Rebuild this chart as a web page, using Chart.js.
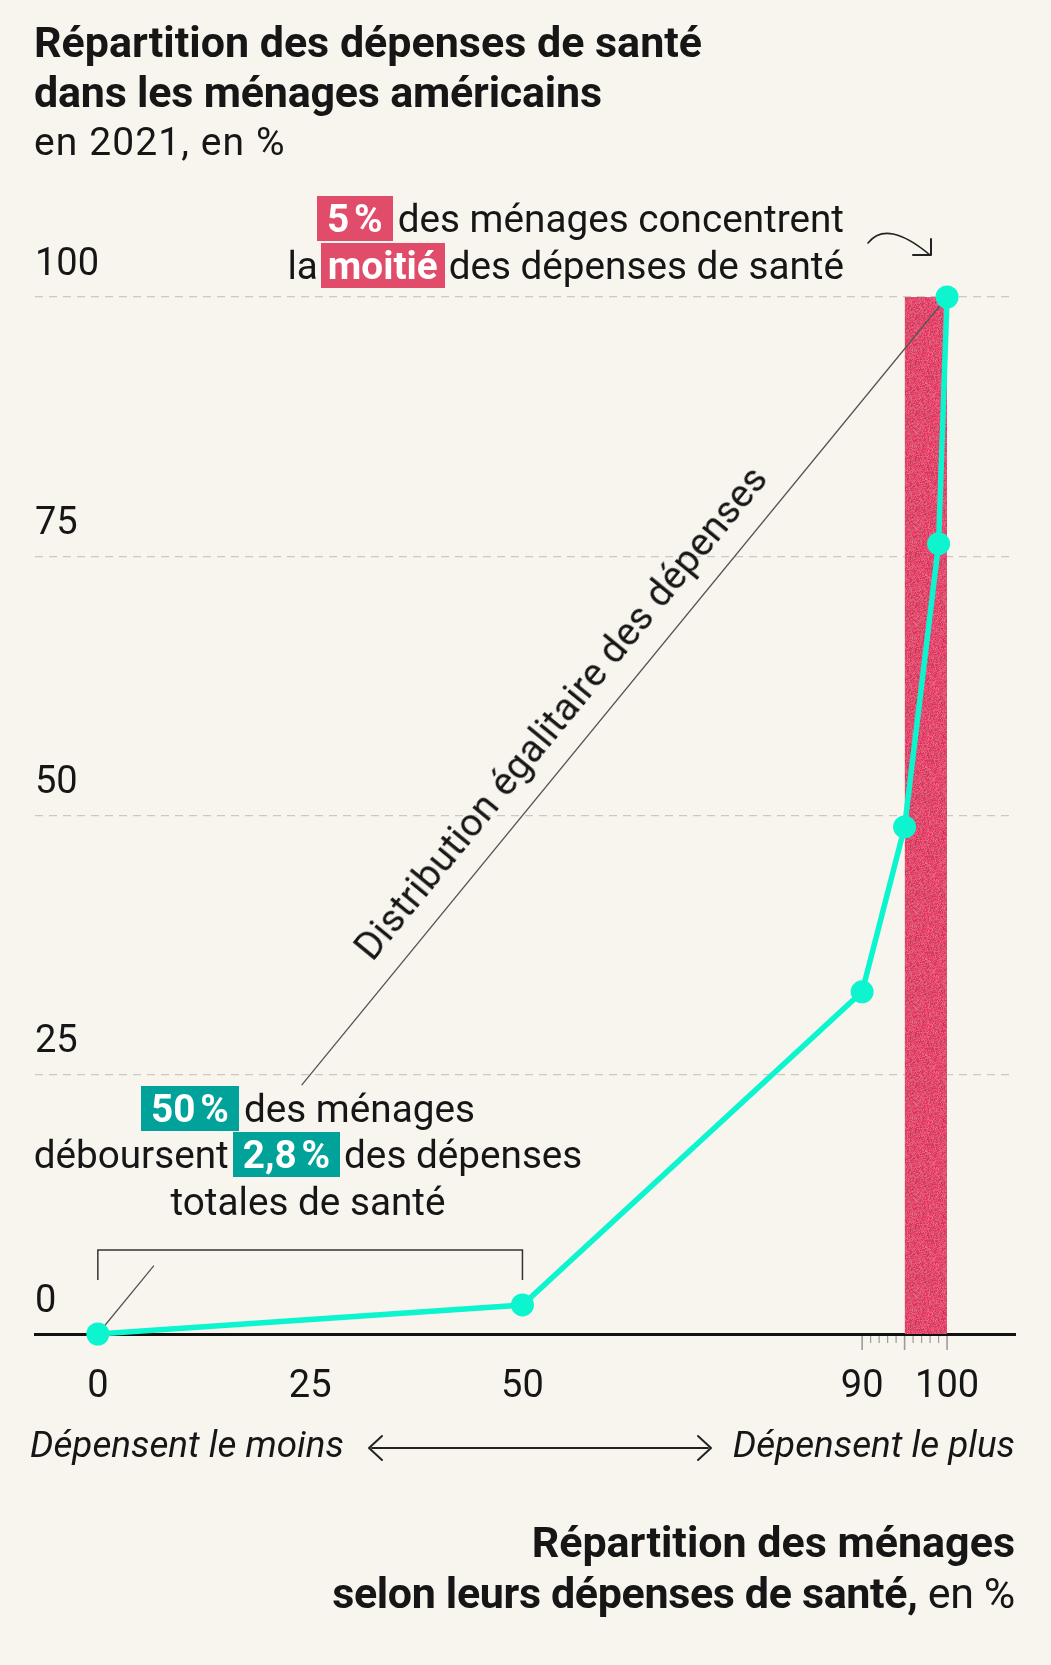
<!DOCTYPE html>
<html lang="fr">
<head>
<meta charset="utf-8">
<title>Répartition des dépenses de santé dans les ménages américains</title>
<script src="https://cdn.jsdelivr.net/npm/chart.js@4.4.1/dist/chart.umd.min.js"></script>
<style>
  html, body { margin: 0; padding: 0; background: #f8f5ef; }
  #page { position: relative; width: 1051px; height: 1665px; overflow: hidden;
          font-family: Roboto, 'Liberation Sans', sans-serif; color: #161616; }
  #graph { position: absolute; left: 0; top: 0; width: 1051px; height: 1665px; }
  .txt { position: absolute; white-space: nowrap; line-height: 1; }
  .titre { left: 34px; font-size: 43px; font-weight: 700; }
  .sous-titre { left: 34px; top: 123px; font-size: 39px; font-weight: 400; letter-spacing: 1.1px; }
  .note { font-size: 38.7px; font-weight: 400; }
  .hl { color: #fff; font-weight: 700; padding: 0 10px; }
  .rouge { background: #e14c6a; }
  .vert { background: #00a29a; }
  .sens { font-size: 36.8px; font-style: italic; top: 1427px; }
  .axe-titre { right: 36px; font-size: 43px; font-weight: 700; text-align: right; }
  #deco { position: absolute; left: 0; top: 0; pointer-events: none; }
</style>
</head>
<body>
<div id="page">
  <canvas id="graph" width="1051" height="1665"></canvas>

  <div class="txt titre" style="top:21px">Répartition des dépenses de santé</div>
  <div class="txt titre" style="top:71px; letter-spacing:-0.2px">dans les ménages américains</div>
  <div class="txt sous-titre">en 2021, en %</div>

  <div class="txt note" style="right:207px; top:200px; text-align:right"><span class="hl rouge" style="margin-right:5px">5&#8239;%</span>des ménages concentrent</div>
  <div class="txt note" style="right:207px; top:247px; text-align:right">la<span class="hl rouge" style="margin:0 4px 0 3px; padding:0 7px">moitié</span>des dépenses de santé</div>

  <div class="txt note" style="left:0; width:616px; top:1090px; text-align:center"><span class="hl vert" style="margin-right:5px">50&#8239;%</span>des ménages</div>
  <div class="txt note" style="left:0; width:616px; top:1136px; text-align:center">déboursent<span class="hl vert" style="margin:0 4px">2,8&#8239;%</span>des dépenses</div>
  <div class="txt note" style="left:0; width:616px; top:1183px; text-align:center">totales de santé</div>

  <div class="txt note" style="left:561px; top:713px; letter-spacing:0.3px; transform: translate(-50%, -50%) rotate(-50.6deg)">Distribution égalitaire des dépenses</div>

  <div class="txt sens" style="left:30px">Dépensent le moins</div>
  <div class="txt sens" style="right:36px">Dépensent le plus</div>

  <div class="txt axe-titre" style="top:1521px">Répartition des ménages</div>
  <div class="txt axe-titre" style="top:1572px; letter-spacing:-0.35px">selon leurs dépenses de santé,<span style="font-weight:400"> en %</span></div>

  <svg id="deco" width="1051" height="1665" fill="none" stroke="#222" stroke-linecap="round" stroke-linejoin="round">
    <path d="M868 243 Q887 219 930 255" stroke-width="1.6"/>
    <path d="M913 255 L931 255 L931 239" stroke-width="2"/>
    <path d="M372 1448 L708 1448" stroke-width="2"/>
    <path d="M382 1436 L369 1448 L382 1460" stroke-width="2"/>
    <path d="M698 1436 L711 1448 L698 1460" stroke-width="2"/>
  </svg>
</div>

<script>
  // part cumulée des ménages (classés du moins au plus dépensier) / part cumulée des dépenses
  const pctMenages  = [0, 50, 90, 95, 99, 100];
  const pctDepenses = [0, 2.8, 33, 48.9, 76.2, 100];
  const xTicks = [0, 25, 50, 90, 100];
  const yTicks = [0, 25, 50, 75, 100];
  const graduations = [90, 91, 92, 93, 94, 95, 96, 97, 98, 99, 100];
  const zoneTop5 = [95, 100];       // les 5 % qui dépensent le plus
  const diagonale = [0, 100];       // distribution égalitaire
  const groupeBas = [0, 50];        // les 50 % qui dépensent le moins

  const TURQUOISE = '#0cf5cf';
  const FONT = 'Roboto, "Liberation Sans", sans-serif';

  // texture granuleuse de la bande rouge
  function grain() {
    const c = document.createElement('canvas');
    c.width = c.height = 96;
    const g = c.getContext('2d');
    const img = g.createImageData(96, 96);
    let s = 12345;
    const rnd = () => { s = (s * 1103515245 + 12345) & 0x7fffffff; return s / 0x7fffffff; };
    for (let i = 0; i < 96 * 96; i++) {
      const t = rnd(), u = rnd();
      img.data[i*4]   = 195 + t * 60;
      img.data[i*4+1] = 45 + u * 60;
      img.data[i*4+2] = 75 + (t * 0.5 + u * 0.5) * 70;
      img.data[i*4+3] = 255;
    }
    g.putImageData(img, 0, 0);
    return g.createPattern(c, 'repeat');
  }

  const decoPlugin = {
    id: 'deco',
    afterDatasetsDraw(chart) {
      const { ctx, scales: { x, y } } = chart;
      const y0 = y.getPixelForValue(0);
      ctx.save();
      // accolade au-dessus des 50 %
      ctx.strokeStyle = '#333';
      ctx.lineWidth = 1.5;
      const xa = x.getPixelForValue(groupeBas[0]), xb = x.getPixelForValue(groupeBas[1]);
      ctx.beginPath();
      ctx.moveTo(xa, y0 - 54); ctx.lineTo(xa, y0 - 84);
      ctx.lineTo(xb, y0 - 84); ctx.lineTo(xb, y0 - 54);
      ctx.stroke();
      // graduations fines 90-100
      ctx.strokeStyle = '#9b9b9b';
      graduations.forEach(v => {
        const px = x.getPixelForValue(v);
        const long = v % 5 === 0;
        ctx.lineWidth = long ? 1.6 : 1.2;
        ctx.beginPath();
        ctx.moveTo(px, y0 + 2);
        ctx.lineTo(px, y0 + (long ? 16 : 9));
        ctx.stroke();
      });
      ctx.restore();
    }
  };

  const coupure = [6.6, 24]; // interruption de la diagonale sous le texte
  const diagData = [
    { x: diagonale[0], y: diagonale[0] },
    { x: coupure[0], y: coupure[0] },
    { x: (coupure[0] + coupure[1]) / 2, y: null },
    { x: coupure[1], y: coupure[1] },
    { x: diagonale[1], y: diagonale[1] }
  ];

  new Chart(document.getElementById('graph'), {
    type: 'line',
    data: {
      datasets: [
        {
          data: pctMenages.map((v, i) => ({ x: v, y: pctDepenses[i] })),
          borderColor: TURQUOISE,
          backgroundColor: TURQUOISE,
          borderWidth: 5.5,
          pointRadius: 11.5,
          pointBorderWidth: 0,
          pointBackgroundColor: TURQUOISE,
          tension: 0,
          clip: false,
          order: 1
        },
        {
          data: diagData,
          borderColor: '#555',
          borderWidth: 1.3,
          pointRadius: 0,
          spanGaps: false,
          clip: false,
          order: 2
        },
        {
          data: zoneTop5.map(v => ({ x: v, y: 100 })),
          borderWidth: 0,
          pointRadius: 0,
          fill: 'origin',
          backgroundColor: grain(),
          order: 3
        }
      ]
    },
    options: {
      responsive: false,
      animation: false,
      events: [],
      layout: { padding: { left: 35, right: 36, top: 297, bottom: 251 } },
      plugins: { legend: { display: false }, tooltip: { enabled: false } },
      scales: {
        x: {
          type: 'linear',
          min: -7.4,
          max: 108,
          afterBuildTicks: axis => { axis.ticks = xTicks.map(v => ({ value: v })); },
          afterFit: axis => { axis.height = 80; },
          grid: { display: true, drawOnChartArea: false, drawTicks: false },
          border: { display: true, color: '#111', width: 3 },
          ticks: { padding: 31, color: '#161616', font: { family: FONT, size: 38 }, maxRotation: 0, autoSkip: false }
        },
        y: {
          min: 0,
          max: 100,
          afterBuildTicks: axis => { axis.ticks = yTicks.map(v => ({ value: v })); },
          afterFit: axis => { axis.width = 0; },
          grid: { color: '#cbc8c2', lineWidth: 1.3, drawTicks: false },
          border: { display: false, dash: [8, 6] },
          ticks: { mirror: true, padding: 0, labelOffset: -32, color: '#161616', font: { family: FONT, size: 38 } }
        }
      }
    },
    plugins: [decoPlugin]
  });
</script>
</body>
</html>
